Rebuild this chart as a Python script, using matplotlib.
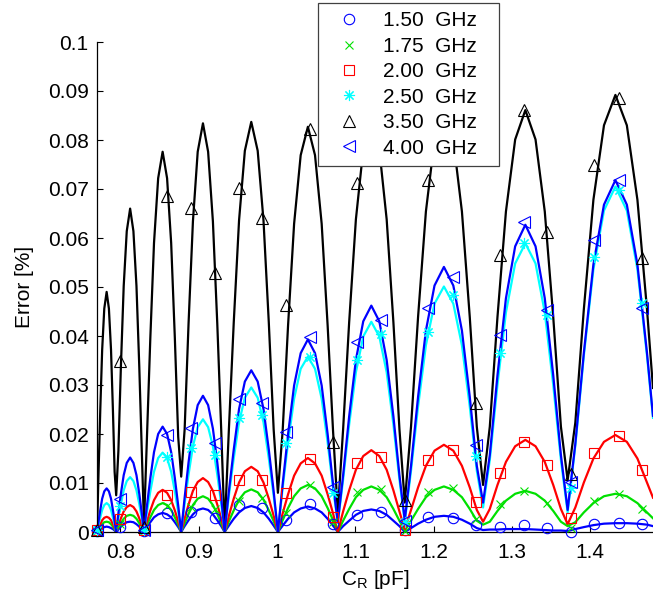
import matplotlib
matplotlib.use('Agg')
import matplotlib.pyplot as plt
from matplotlib.lines import Line2D

plt.rcParams['font.family'] = ['Liberation Sans', 'DejaVu Sans']
plt.rcParams['mathtext.fontset'] = 'custom'
plt.rcParams['mathtext.rm'] = 'Liberation Sans'
plt.rcParams['mathtext.it'] = 'Liberation Sans'

# ---------------- data ----------------
labels = ['1.50  GHz', '1.75  GHz', '2.00  GHz', '2.50  GHz', '3.50  GHz', '4.00  GHz']

# model curves (C_R in pF, error in %)
cr_line = [
    0.7700, 0.7720, 0.7742, 0.7766, 0.7793, 0.7823, 0.7852, 0.7879, 0.7903, 0.7925,
    0.7945, 0.7973, 0.8005, 0.8041, 0.8080, 0.8123, 0.8165, 0.8204, 0.8240, 0.8272,
    0.8300, 0.8338, 0.8381, 0.8428, 0.8481, 0.8538, 0.8595, 0.8647, 0.8694, 0.8737,
    0.8775, 0.8819, 0.8869, 0.8925, 0.8986, 0.9053, 0.9119, 0.9180, 0.9236, 0.9286,
    0.9330, 0.9384, 0.9446, 0.9514, 0.9588, 0.9670, 0.9752, 0.9826, 0.9894, 0.9956,
    1.0010, 1.0071, 1.0140, 1.0217, 1.0301, 1.0393, 1.0484, 1.0569, 1.0645, 1.0714,
    1.0775, 1.0843, 1.0920, 1.1006, 1.1100, 1.1203, 1.1305, 1.1399, 1.1485, 1.1562,
    1.1630, 1.1710, 1.1800, 1.1900, 1.2010, 1.2130, 1.2250, 1.2360, 1.2460, 1.2550,
    1.2630, 1.2716, 1.2814, 1.2922, 1.3040, 1.3170, 1.3300, 1.3418, 1.3526, 1.3624,
    1.3710, 1.3808, 1.3917, 1.4039, 1.4174, 1.4320, 1.4466, 1.4601, 1.4723, 1.4800]

err_line_150 = [
    0, .0003, .0006, .0008, .0010, .0011, .0010, .0008, .0006, .0003,
    0, .0005, .0011, .0016, .0020, .0021, .0020, .0016, .0011, .0005,
    0, .0010, .0020, .0030, .0036, .0039, .0036, .0030, .0020, .0010,
    0, .0012, .0024, .0036, .0045, .0048, .0045, .0036, .0024, .0012,
    0, .0013, .0027, .0040, .0049, .0053, .0049, .0040, .0027, .0013,
    0, .0013, .0027, .0040, .0048, .0052, .0048, .0040, .0027, .0013,
    0, .0012, .0023, .0035, .0043, .0046, .0043, .0035, .0023, .0012,
    0, .0008, .0017, .0025, .0031, .0033, .0031, .0025, .0017, .0008,
    .0004, .0005, .0005, .0006, .0006, .0006, .0005, .0004, .0003, .0003,
    .0002, .0006, .0010, .0014, .0017, .0018, .0018, .0017, .0015, .0012]

err_line_175 = [
    0, .0005, .0011, .0016, .0020, .0021, .0020, .0016, .0011, .0005,
    0, .0009, .0018, .0027, .0033, .0035, .0033, .0027, .0018, .0009,
    0, .0015, .0030, .0045, .0055, .0059, .0055, .0045, .0030, .0015,
    0, .0018, .0037, .0055, .0068, .0073, .0068, .0055, .0037, .0018,
    0, .0022, .0044, .0066, .0081, .0087, .0081, .0066, .0044, .0022,
    0, .0024, .0049, .0073, .0089, .0096, .0089, .0073, .0049, .0024,
    0, .0023, .0047, .0071, .0086, .0093, .0086, .0071, .0047, .0023,
    .0003, .0023, .0047, .0071, .0086, .0093, .0086, .0071, .0047, .0023,
    .0015, .0021, .0043, .0064, .0078, .0084, .0078, .0064, .0043, .0021,
    .0012, .0020, .0040, .0059, .0073, .0078, .0073, .0059, .0040, .0028]

err_line_200 = [
    0, .0008, .0016, .0024, .0029, .0031, .0029, .0024, .0016, .0008,
    0, .0014, .0028, .0042, .0051, .0055, .0051, .0042, .0028, .0014,
    0, .0022, .0044, .0065, .0080, .0086, .0080, .0065, .0044, .0022,
    0, .0028, .0056, .0084, .0102, .0110, .0102, .0084, .0056, .0028,
    0, .0033, .0068, .0101, .0124, .0133, .0124, .0101, .0068, .0033,
    0, .0038, .0077, .0115, .0140, .0151, .0140, .0115, .0077, .0038,
    0, .0042, .0085, .0127, .0155, .0167, .0155, .0127, .0085, .0042,
    .0005, .0045, .0091, .0135, .0166, .0178, .0166, .0135, .0091, .0045,
    .0021, .0047, .0096, .0143, .0175, .0188, .0175, .0143, .0096, .0047,
    .0016, .0050, .0101, .0150, .0184, .0198, .0184, .0150, .0101, .0070]

err_line_250 = [
    0, .0015, .0030, .0045, .0055, .0059, .0055, .0045, .0030, .0015,
    0, .0028, .0057, .0085, .0104, .0112, .0104, .0085, .0057, .0028,
    0, .0041, .0083, .0123, .0151, .0162, .0151, .0123, .0083, .0041,
    0, .0058, .0117, .0175, .0214, .0230, .0214, .0175, .0117, .0058,
    0, .0074, .0150, .0224, .0274, .0295, .0274, .0224, .0150, .0074,
    0, .0090, .0183, .0272, .0333, .0358, .0333, .0272, .0183, .0090,
    .0018, .0107, .0219, .0326, .0399, .0429, .0399, .0326, .0219, .0107,
    .0020, .0125, .0256, .0381, .0466, .0501, .0466, .0381, .0256, .0125,
    .0050, .0147, .0300, .0448, .0548, .0589, .0548, .0448, .0300, .0147,
    .0040, .0176, .0360, .0536, .0656, .0705, .0656, .0536, .0360, .0233]

err_line_350 = [
    .0000, .0123, .0250, .0372, .0456, .0490, .0456, .0372, .0250, .0123,
    .0075, .0165, .0337, .0502, .0614, .0660, .0614, .0502, .0337, .0165,
    .0015, .0194, .0396, .0590, .0722, .0776, .0722, .0590, .0396, .0194,
    .0113, .0209, .0425, .0634, .0776, .0834, .0776, .0634, .0425, .0209,
    .0005, .0209, .0427, .0636, .0778, .0837, .0778, .0636, .0427, .0209,
    .0080, .0207, .0422, .0629, .0769, .0827, .0769, .0629, .0422, .0207,
    .0040, .0210, .0428, .0638, .0781, .0840, .0781, .0638, .0428, .0210,
    .0060, .0215, .0439, .0654, .0800, .0860, .0800, .0654, .0439, .0215,
    .0096, .0215, .0439, .0654, .0801, .0861, .0801, .0654, .0439, .0215,
    .0106, .0223, .0455, .0678, .0830, .0892, .0830, .0678, .0455, .0294]

err_line_400 = [
    0, .0022, .0045, .0068, .0083, .0089, .0083, .0068, .0045, .0022,
    0, .0038, .0078, .0116, .0141, .0152, .0141, .0116, .0078, .0038,
    0, .0054, .0110, .0163, .0200, .0215, .0200, .0163, .0110, .0054,
    0, .0070, .0142, .0211, .0259, .0278, .0259, .0211, .0142, .0070,
    0, .0083, .0168, .0251, .0307, .0330, .0307, .0251, .0168, .0083,
    0, .0098, .0200, .0299, .0365, .0393, .0365, .0299, .0200, .0098,
    .0020, .0116, .0236, .0351, .0430, .0462, .0430, .0351, .0236, .0116,
    .0024, .0135, .0276, .0411, .0503, .0541, .0503, .0411, .0276, .0135,
    .0060, .0157, .0320, .0477, .0583, .0627, .0583, .0477, .0320, .0157,
    .0045, .0180, .0366, .0546, .0668, .0718, .0668, .0546, .0366, .0237]

# sampled points (markers)
cr_mark = [0.770, 0.800, 0.830, 0.860, 0.890, 0.921, 0.951, 0.981,
           1.011, 1.042, 1.072, 1.102, 1.133, 1.163, 1.193, 1.224,
           1.254, 1.284, 1.315, 1.345, 1.375, 1.405, 1.436, 1.466]

err_mark_150 = [0.0002, 0.0011, 0.0002, 0.0038, 0.0041, 0.0028, 0.0055, 0.0048,
                0.0025, 0.0057, 0.0016, 0.0035, 0.0041, 0.0004, 0.0031, 0.0028,
                0.0014, 0.0011, 0.0014, 0.0008, 0.0001, 0.0016, 0.0019, 0.0016]
err_mark_175 = [0.0002, 0.0016, 0.0002, 0.0054, 0.0052, 0.0046, 0.0064, 0.0070,
                0.0038, 0.0096, 0.0021, 0.0082, 0.0087, 0.0003, 0.0082, 0.0089,
                0.0026, 0.0058, 0.0084, 0.0060, 0.0008, 0.0063, 0.0078, 0.0046]
err_mark_200 = [0.0004, 0.0026, 0.0004, 0.0076, 0.0082, 0.0076, 0.0106, 0.0106,
                0.0080, 0.0150, 0.0030, 0.0140, 0.0154, 0.0005, 0.0147, 0.0167,
                0.0062, 0.0120, 0.0184, 0.0137, 0.0028, 0.0161, 0.0195, 0.0127]
err_mark_250 = [0.0005, 0.0053, 0.0005, 0.0154, 0.0171, 0.0157, 0.0232, 0.0239,
                0.0181, 0.0358, 0.0080, 0.0351, 0.0405, 0.0020, 0.0409, 0.0484,
                0.0155, 0.0365, 0.0589, 0.0443, 0.0090, 0.0562, 0.0698, 0.0467]
err_mark_350 = [0.0005, 0.0348, 0.0010, 0.0686, 0.0661, 0.0529, 0.0702, 0.0641,
                0.0463, 0.0822, 0.0184, 0.0713, 0.0780, 0.0065, 0.0718, 0.0830,
                0.0263, 0.0565, 0.0861, 0.0613, 0.0118, 0.0749, 0.0885, 0.0559]
err_mark_400 = [0.0005, 0.0068, 0.0005, 0.0198, 0.0212, 0.0181, 0.0271, 0.0263,
                0.0205, 0.0397, 0.0092, 0.0388, 0.0433, 0.0022, 0.0457, 0.0521,
                0.0178, 0.0402, 0.0633, 0.0453, 0.0103, 0.0596, 0.0718, 0.0457]

# ---------------- styling ----------------
colors = ['#0000ff', '#00e000', '#ff0000', '#00ffff', '#000000', '#0000ff']
markers = ['o', 'x', 's', (8, 2, 0), '^', '<']
msizes = [7.5, 6, 7.5, 8, 8.5, 8.5]

lines_y = [err_line_150, err_line_175, err_line_200, err_line_250, err_line_350, err_line_400]
marks_y = [err_mark_150, err_mark_175, err_mark_200, err_mark_250, err_mark_350, err_mark_400]

W, H = 653, 598
fig = plt.figure(figsize=(W / 100, H / 100), dpi=100)
ax = fig.add_axes([97 / W, 66 / H, (W - 97) / W, (532 - 42) / H])

for y, c in zip(lines_y, colors):
    ax.plot(cr_line, y, '-', color=c, lw=1.6, zorder=2)

handles = []
for y, c, m, ms, lab in zip(marks_y, colors, markers, msizes, labels):
    ax.plot(cr_mark, y, linestyle='none', marker=m, ms=ms, mfc='none', mec=c,
            mew=0.8, zorder=3, clip_on=False)
    handles.append(Line2D([], [], linestyle='none', marker=m, ms=ms, mfc='none',
                          mec=c, mew=0.8, label=lab))

ax.set_xlim(0.77, 1.48)
ax.set_ylim(0, 0.1)
ax.set_xticks([0.8, 0.9, 1.0, 1.1, 1.2, 1.3, 1.4])
ax.set_xticklabels(['0.8', '0.9', '1', '1.1', '1.2', '1.3', '1.4'])
ax.set_yticks([0, 0.01, 0.02, 0.03, 0.04, 0.05, 0.06, 0.07, 0.08, 0.09, 0.1])
ax.set_yticklabels(['0', '0.01', '0.02', '0.03', '0.04', '0.05', '0.06',
                    '0.07', '0.08', '0.09', '0.1'])

for s in ['top', 'right']:
    ax.spines[s].set_visible(False)
for s in ['left', 'bottom']:
    ax.spines[s].set_linewidth(0.9)
ax.tick_params(direction='in', length=4, width=0.8, labelsize=15, pad=6)
ax.tick_params(axis='x', pad=8)

ax.set_xlabel(r'C$_{\mathregular{R}}$ [pF]', fontsize=15, labelpad=4)
ax.set_ylabel('Error [%]', fontsize=15, labelpad=10)

leg = fig.legend(handles=handles, loc='upper left',
                 bbox_to_anchor=(318 / W, 1 - 3 / H, 181 / W, 0.0),
                 bbox_transform=fig.transFigure, mode='expand',
                 fontsize=15, frameon=True, fancybox=False, framealpha=1,
                 borderaxespad=0, borderpad=0.4, labelspacing=0.31,
                 handlelength=2.2, handletextpad=0.5)
leg.get_frame().set_edgecolor('#404040')
leg.get_frame().set_linewidth(0.9)
leg.set_zorder(10)

fig.savefig('out.png', dpi=100)
